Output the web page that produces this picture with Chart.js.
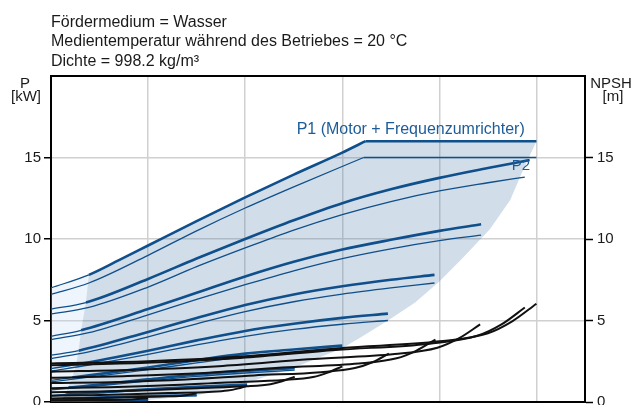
<!DOCTYPE html>
<html>
<head>
<meta charset="utf-8">
<script src="https://cdn.jsdelivr.net/npm/chart.js@4.4.1/dist/chart.umd.min.js"></script>
<style>
  html, body { margin: 0; padding: 0; background: #fff; }
</style>
</head>
<body>
<canvas id="myChart" width="639" height="405"></canvas>
<script>
// header / axis texts
var headerLines = ['Fördermedium = Wasser', 'Medientemperatur während des Betriebes = 20 °C', 'Dichte = 998.2 kg/m³'];
var leftTitle = ['P', '[kW]'];
var rightTitle = ['NPSH', '[m]'];
var p1Label = 'P1 (Motor + Frequenzumrichter)';
var p2Label = 'P2';
var yTicks = [0, 5, 10, 15];

// P1 (motor + inverter), one row per speed
var p1Flow = [
  [0, 0.39, 0.7, 1.0, 1.5, 2.0, 2.5, 3.0, 3.24, 5.0],
  [0, 0.36, 1.0, 1.5, 2.0, 2.5, 3.0, 3.5, 4.0, 4.5, 4.93],
  [0, 0.31, 1.0, 1.5, 2.0, 2.5, 3.0, 3.5, 4.0, 4.43],
  [0, 0.285, 1.0, 1.5, 2.0, 2.5, 3.0, 3.5, 3.95],
  [0, 0.26, 1.0, 1.5, 2.0, 2.5, 3.0, 3.47],
  [0, 0.22, 1.0, 1.5, 2.0, 2.5, 3.0],
  [0, 0.18, 1.0, 1.5, 2.0, 2.51],
  [0, 0.15, 1.0, 1.5, 2.02],
  [0, 0.12, 0.5, 1.0, 1.5],
  [0, 0.1, 0.5, 1.0]
];
var p1Power = [
  [7.0, 7.8, 8.7, 9.6, 11.1, 12.55, 13.95, 15.3, 16.0, 16.0],
  [5.7, 6.1, 7.55, 8.8, 10.0, 11.15, 12.2, 13.05, 13.75, 14.35, 14.85],
  [4.03, 4.4, 5.7, 6.7, 7.7, 8.6, 9.35, 9.95, 10.5, 10.9],
  [2.87, 3.15, 4.3, 5.15, 5.95, 6.6, 7.1, 7.5, 7.8],
  [2.05, 2.3, 3.15, 3.78, 4.36, 4.8, 5.16, 5.42],
  [1.33, 1.5, 2.12, 2.57, 2.97, 3.22, 3.46],
  [0.8, 0.88, 1.39, 1.69, 1.91, 2.08],
  [0.41, 0.46, 0.78, 0.94, 1.07],
  [0.17, 0.19, 0.27, 0.36, 0.42],
  [0.05, 0.06, 0.09, 0.12]
];

// P2 (shaft power)
var p2Flow = [
  [0, 0.39, 1.0, 1.5, 2.0, 2.5, 3.22, 5.0],
  [0, 0.39, 1.0, 1.5, 2.0, 2.5, 3.0, 3.5, 4.0, 4.5, 4.88],
  [0, 0.39, 1.0, 1.5, 2.0, 2.5, 3.0, 3.5, 4.0, 4.43],
  [0, 0.39, 1.0, 1.5, 2.0, 2.5, 3.0, 3.5, 3.95],
  [0, 0.39, 1.0, 1.5, 2.0, 2.5, 3.0, 3.47],
  [0, 0.39, 1.0, 1.5, 2.0, 2.5, 3.0],
  [0, 0.39, 1.0, 1.5, 2.0, 2.51],
  [0, 0.39, 1.0, 1.5, 2.02],
  [0, 0.5, 1.0, 1.5],
  [0, 0.5, 1.0]
];
var p2Power = [
  [6.6, 7.3, 9.0, 10.5, 11.9, 13.2, 15.0, 15.0],
  [5.4, 5.8, 7.05, 8.3, 9.45, 10.55, 11.5, 12.3, 12.95, 13.45, 13.8],
  [3.83, 4.25, 5.35, 6.3, 7.2, 8.05, 8.8, 9.4, 9.9, 10.24],
  [2.66, 3.08, 4.0, 4.8, 5.55, 6.15, 6.62, 7.0, 7.3],
  [1.9, 2.27, 2.92, 3.5, 4.03, 4.45, 4.77, 5.0],
  [1.24, 1.52, 1.98, 2.4, 2.78, 3.02, 3.26],
  [0.74, 0.93, 1.29, 1.57, 1.78, 1.95],
  [0.38, 0.52, 0.73, 0.88, 1.0],
  [0.16, 0.25, 0.34, 0.4],
  [0.05, 0.08, 0.11]
];

// NPSH curves
var npshFlow = [
  [0, 1.0, 2.0, 3.0, 4.0, 4.5, 4.75, 5.0],
  [0, 0.98, 1.95, 2.93, 3.9, 4.39, 4.64, 4.88],
  [0, 0.88, 1.77, 2.65, 3.54, 3.98, 4.2, 4.42],
  [0, 0.79, 1.58, 2.38, 3.17, 3.56, 3.76, 3.96],
  [0, 0.7, 1.39, 2.09, 2.78, 3.13, 3.31, 3.48],
  [0, 0.6, 1.2, 1.8, 2.4, 2.7, 2.85, 3.0],
  [0, 0.5, 1.0, 1.51, 2.01, 2.26, 2.38, 2.51],
  [0, 0.4, 0.81, 1.21, 1.62, 1.82, 1.92, 2.02],
  [0, 0.3, 0.6, 0.9, 1.2, 1.35, 1.43, 1.5],
  [0, 0.4, 0.8, 1.0]
];
var npshValue = [
  [2.36, 2.5, 2.8, 3.32, 3.72, 4.22, 4.95, 6.03],
  [2.26, 2.41, 2.7, 3.19, 3.58, 4.06, 4.76, 5.8],
  [1.86, 1.98, 2.21, 2.62, 2.94, 3.33, 3.9, 4.76],
  [1.49, 1.59, 1.78, 2.11, 2.36, 2.68, 3.14, 3.83],
  [1.16, 1.23, 1.38, 1.63, 1.83, 2.08, 2.44, 2.97],
  [0.85, 0.91, 1.02, 1.2, 1.35, 1.53, 1.8, 2.19],
  [0.6, 0.64, 0.72, 0.85, 0.96, 1.09, 1.27, 1.55],
  [0.39, 0.42, 0.47, 0.55, 0.62, 0.7, 0.82, 1.0],
  [0.22, 0.23, 0.26, 0.31, 0.35, 0.39, 0.46, 0.56],
  [0.1, 0.12, 0.15, 0.25]
];

// operating range (shaded) and low-flow range (pale)
var rangeTopFlow = [0.1, 0.15, 0.22, 0.26, 0.285, 0.31, 0.36, 0.39, 0.7, 1.0, 1.5, 2.0, 2.5, 3.0, 3.24, 5.0];
var rangeTopPower = [0, 0.5, 1.5, 2.3, 3.2, 4.4, 6.1, 7.8, 8.7, 9.6, 11.1, 12.55, 13.95, 15.3, 16.0, 16.0];
var rangeBottomFlow = [0.1, 1.0, 1.5, 2.0, 2.5, 3.0, 3.2, 3.47, 3.75, 4.0, 4.25, 4.52, 4.73, 4.86, 5.0];
var rangeBottomPower = [0, 0.12, 0.4, 1.15, 2.1, 3.3, 4.0, 5.0, 6.1, 7.4, 8.9, 10.6, 12.4, 14.2, 16.0];
var lowFlowTop = [0, 0.39];
var lowFlowPower = [7.0, 7.8];

var blue = '#0f4f8c';
var font = '"Liberation Sans", Arial, sans-serif';

function pts(xs, ys) {
  return xs.map(function (x, i) { return { x: x, y: ys[i] }; });
}

// split off a flat end piece so the smooth curve keeps its sharp corner
function pieces(xs, ys) {
  var n = xs.length;
  if (n > 2 && ys[n - 1] === ys[n - 2]) {
    return [pts(xs.slice(0, n - 1), ys.slice(0, n - 1)), pts(xs.slice(n - 2), ys.slice(n - 2))];
  }
  return [pts(xs, ys)];
}

var datasets = [];
// 0: pale top, 1: pale bottom
datasets.push({ data: pts(lowFlowTop, lowFlowPower), fill: 1, backgroundColor: 'rgba(187,215,243,0.25)',
  borderColor: 'rgba(0,0,0,0)', borderWidth: 0, pointRadius: 0, tension: 0, order: 20 });
datasets.push({ data: pts([0].concat(rangeTopFlow.slice(0, 8)), [0].concat(rangeTopPower.slice(0, 8))), fill: false,
  borderColor: 'rgba(0,0,0,0)', borderWidth: 0, pointRadius: 0, tension: 0, order: 20 });
// 2: range top, 3: range bottom
datasets.push({ data: pts(rangeTopFlow, rangeTopPower), fill: 3, backgroundColor: 'rgba(71,119,163,0.25)',
  borderColor: 'rgba(0,0,0,0)', borderWidth: 0, pointRadius: 0, tension: 0, order: 19 });
datasets.push({ data: pts(rangeBottomFlow, rangeBottomPower), fill: false,
  borderColor: 'rgba(0,0,0,0)', borderWidth: 0, pointRadius: 0, tension: 0, order: 19 });

p2Flow.forEach(function (xs, i) {
  pieces(xs, p2Power[i]).forEach(function (d) {
    datasets.push({ data: d, borderColor: blue, borderWidth: 1.3, pointRadius: 0,
      fill: false, cubicInterpolationMode: 'monotone', order: 5 });
  });
});
p1Flow.forEach(function (xs, i) {
  pieces(xs, p1Power[i]).forEach(function (d, k) {
    datasets.push({ data: d, borderColor: blue, borderWidth: 2.6, pointRadius: 0,
      fill: false, cubicInterpolationMode: 'monotone', order: 4,
      segment: { borderWidth: function (ctx) { return (k === 0 && ctx.p0DataIndex === 0) ? 1.3 : 2.6; } } });
  });
});
npshFlow.forEach(function (xs, i) {
  datasets.push({ data: pts(xs, npshValue[i]), borderColor: '#111', borderWidth: 2, pointRadius: 0,
    fill: false, cubicInterpolationMode: 'monotone', yAxisID: 'y2', order: 1 });
});

var textPlugin = {
  id: 'texts',
  afterDraw: function (chart) {
    var ctx = chart.ctx, a = chart.chartArea, xs = chart.scales.x, ys = chart.scales.y;
    ctx.save();
    // top frame line
    ctx.strokeStyle = '#000';
    ctx.lineWidth = 2;
    ctx.beginPath();
    ctx.moveTo(a.left - 1, a.top);
    ctx.lineTo(a.right + 1, a.top);
    ctx.stroke();

    ctx.fillStyle = '#1a1a1a';
    ctx.font = '16px ' + font;
    ctx.textAlign = 'left';
    ctx.textBaseline = 'alphabetic';
    headerLines.forEach(function (t, i) { ctx.fillText(t, a.left, 26.5 + i * 19.7); });

    ctx.font = '15px ' + font;
    ctx.textAlign = 'center';
    ctx.fillText(leftTitle[0], 25, 88);
    ctx.fillText(leftTitle[1], 26, 101);
    ctx.fillText(rightTitle[0], 611, 88);
    ctx.fillText(rightTitle[1], 613, 101);

    ctx.fillStyle = '#1d5c98';
    ctx.textAlign = 'left';
    ctx.font = '16px ' + font;
    ctx.fillText(p1Label, xs.getPixelForValue(2.53), ys.getPixelForValue(16.44));
    ctx.font = '15px ' + font;
    ctx.fillText(p2Label, xs.getPixelForValue(4.745), ys.getPixelForValue(14.24));
    ctx.restore();
  }
};

var tickFont = { family: font, size: 15 };

function noPad(s) { s.paddingTop = 0; s.paddingBottom = 0; }

var chart = new Chart(document.getElementById('myChart'), {
  type: 'line',
  data: { datasets: datasets },
  options: {
    responsive: false,
    animation: false,
    events: [],
    layout: { padding: { top: 76, left: 0, right: 0, bottom: 0 } },
    plugins: { legend: { display: false }, tooltip: { enabled: false } },
    scales: {
      x: {
        type: 'linear', min: 0, max: 5.5,
        ticks: { stepSize: 1, display: false },
        grid: { color: '#d0d0d0', lineWidth: 1.5, drawTicks: false },
        border: { color: '#000', width: 2 },
        afterFit: function (s) { s.height = 3; s.paddingLeft = 0; s.paddingRight = 0; }
      },
      y: {
        position: 'left', min: 0, max: 20,
        afterBuildTicks: function (s) { s.ticks = yTicks.concat([20]).map(function (v) { return { value: v }; }); },
        ticks: { font: tickFont, color: '#1a1a1a', padding: 3,
          callback: function (v) { return v === 20 ? '' : v; } },
        grid: { color: '#d0d0d0', lineWidth: 1.5, tickLength: 7,
          tickColor: function (c) { return c.tick && c.tick.value === 20 ? 'rgba(0,0,0,0)' : '#000'; },
          tickWidth: 1.5 },
        border: { color: '#000', width: 2 },
        afterFit: function (s) { s.width = 51; noPad(s); }
      },
      y2: {
        position: 'right', min: 0, max: 20,
        afterBuildTicks: function (s) { s.ticks = yTicks.map(function (v) { return { value: v }; }); },
        ticks: { font: tickFont, color: '#1a1a1a', padding: 4 },
        grid: { drawOnChartArea: false, tickLength: 8, tickColor: '#000', tickWidth: 1.5 },
        border: { color: '#000', width: 2 },
        afterFit: function (s) { s.width = 54; noPad(s); }
      }
    }
  },
  plugins: [textPlugin]
});
</script>
</body>
</html>
